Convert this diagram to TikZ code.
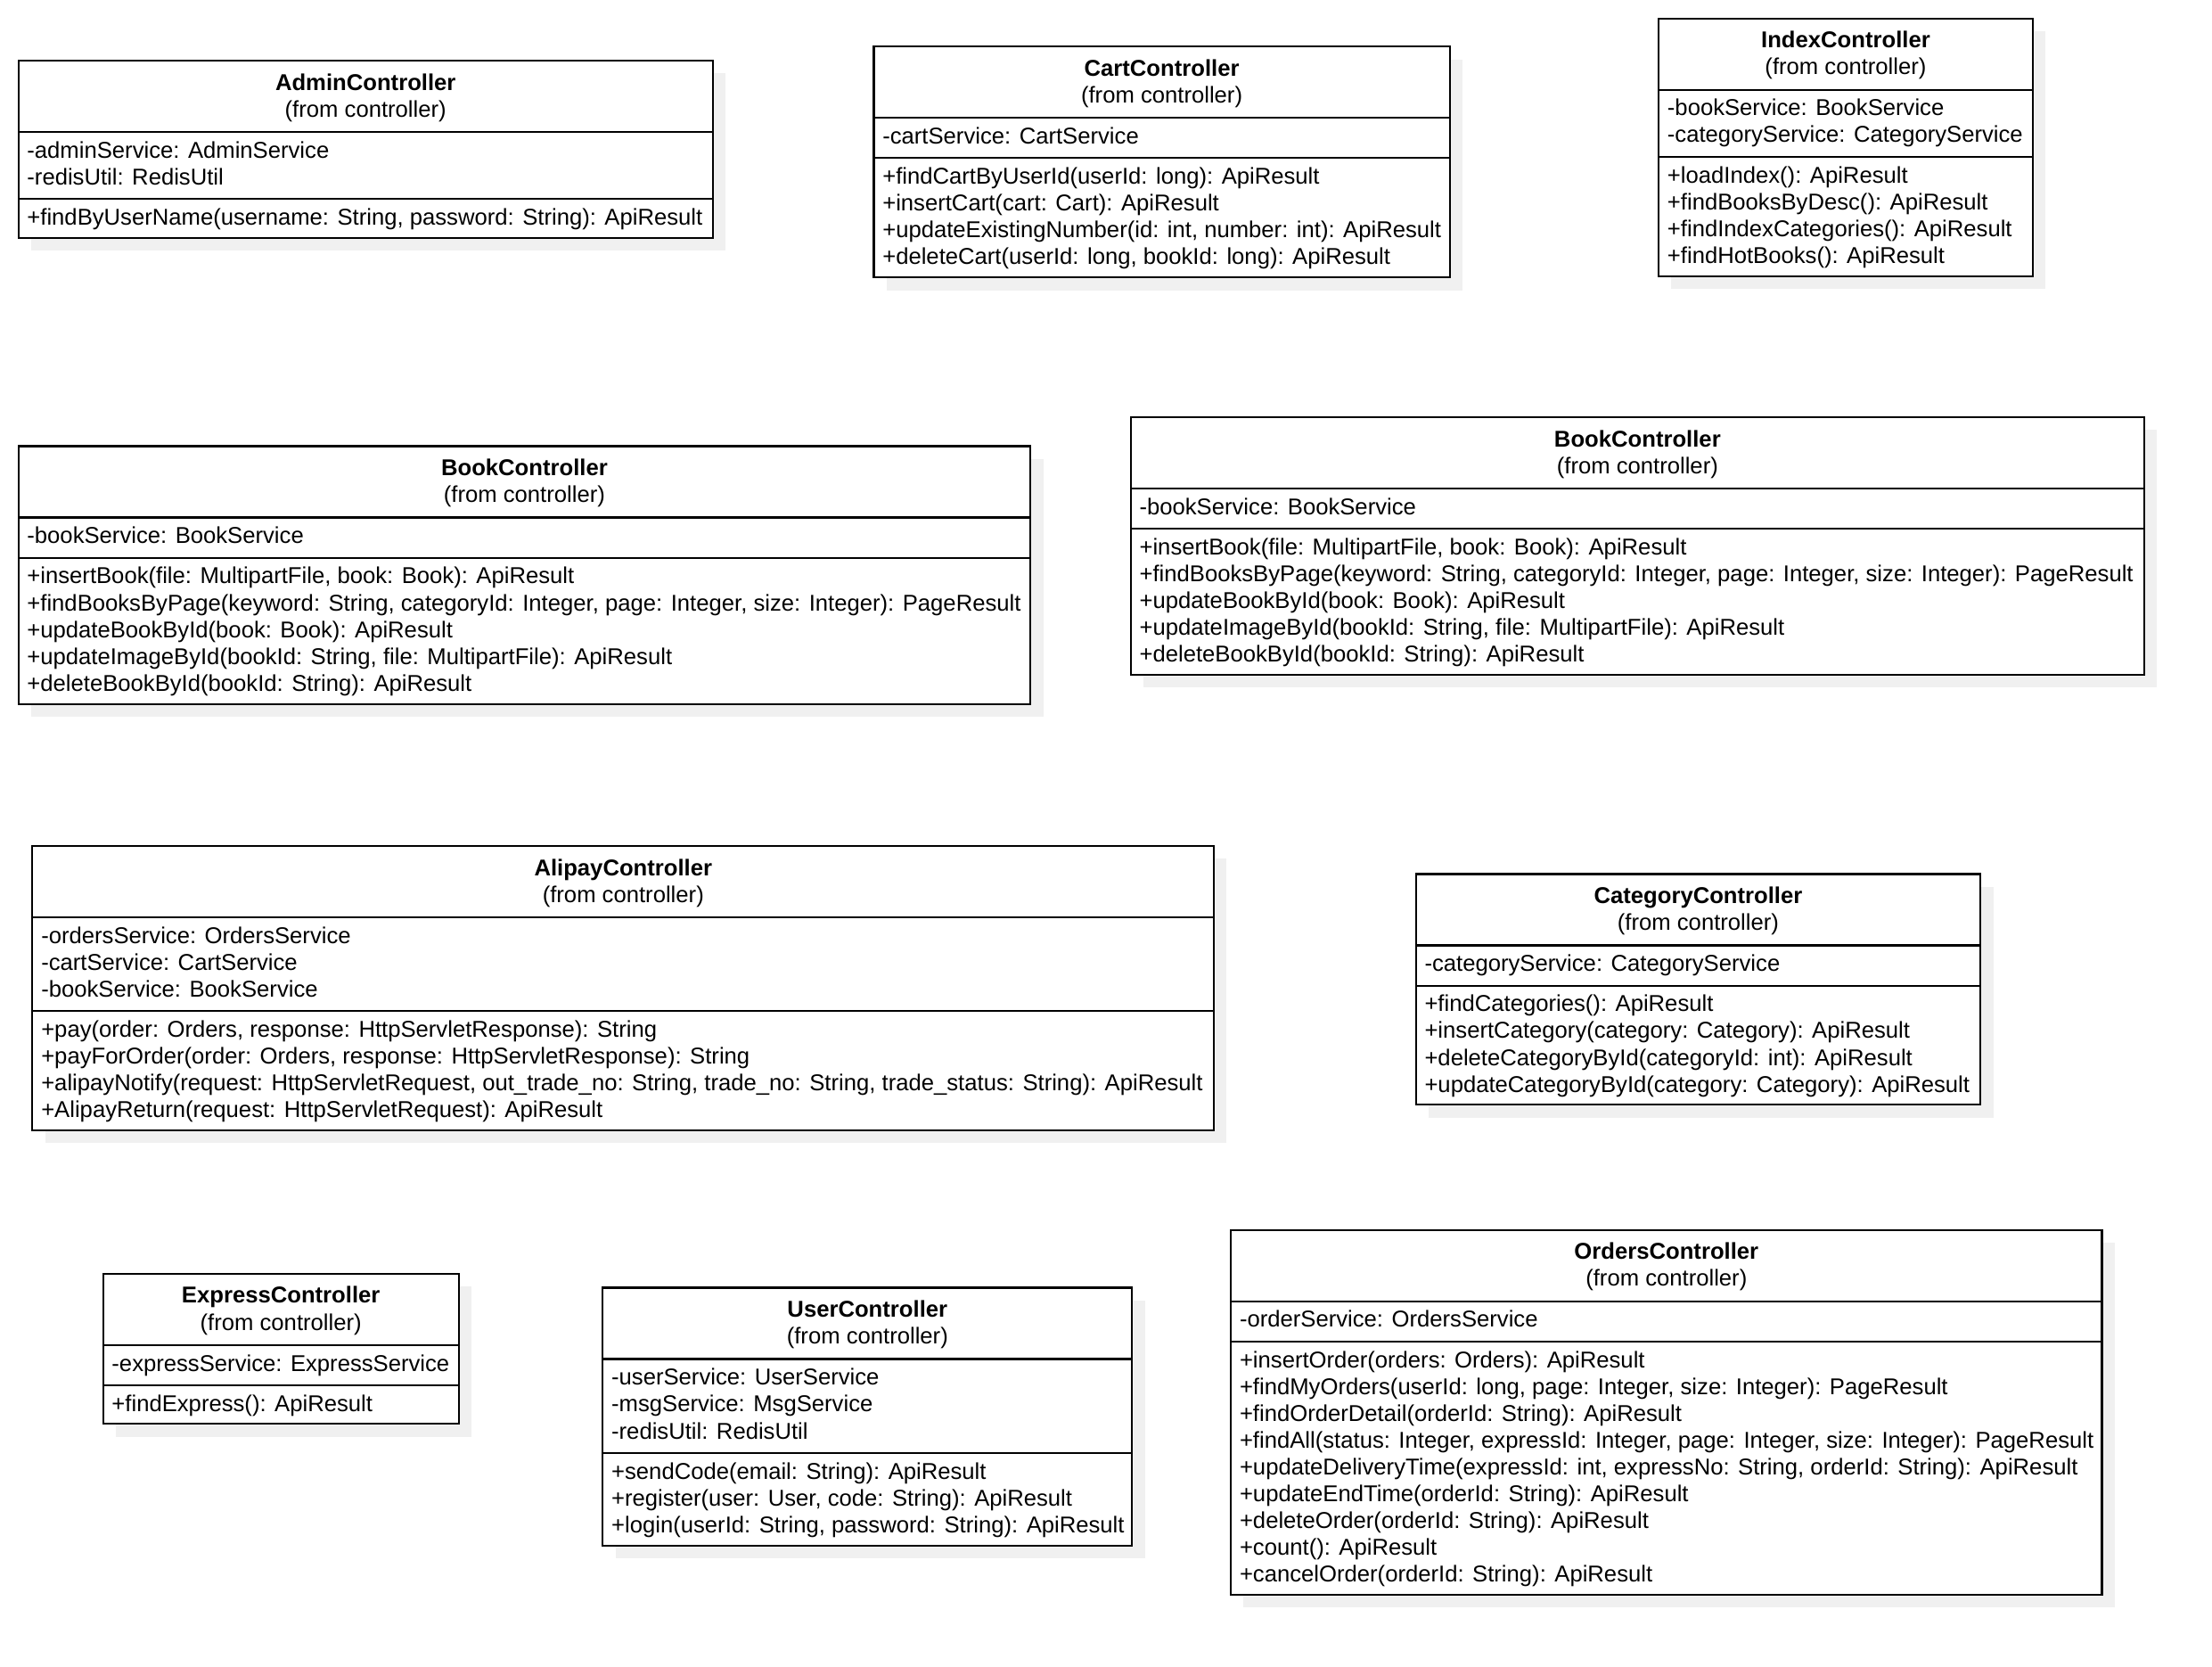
\documentclass[tikz,border=0pt]{standalone}
\usepackage{fontspec}
\setmainfont{Liberation Sans}
\definecolor{shadowc}{HTML}{F0F0F0}
\tikzset{
  member/.style={font=\fontsize{16.2}{19}\selectfont, anchor=base west, inner sep=0pt},
  titletext/.style={font=\fontsize{16.2}{19}\selectfont, anchor=base, inner sep=0pt},
  classbox/.style={draw=black, fill=white, line width=1.35pt, anchor=north west, inner sep=0pt, outer sep=0pt},
  divline/.style={draw=black, line width=1.35pt}
}
% #1 id, #2 left, #3 top, #4 right, #5 title, #6 attributes, #7 operations
\newcommand\umlbox[7]{%
  \foreach \idx [count=\cnt] in {#6} {\xdef\numattr{\cnt}}%
  \foreach \idx [count=\cnt] in {#7} {\xdef\numops{\cnt}}%
  \pgfmathsetmacro\dA{#3+50.5}%
  \pgfmathsetmacro\dB{\dA+19*\numattr+9.5}%
  \pgfmathsetmacro\bot{\dB+19*\numops+8.5}%
  \pgfmathsetmacro\bw{#4-#2}%
  \pgfmathsetmacro\bh{\bot-#3}%
  \fill[shadowc] ({#2+9},{#3+9}) rectangle ({#4+9},{\bot+9});
  \node[classbox, minimum width=\bw pt, minimum height=\bh pt] (#1) at (#2,#3) {};
  \coordinate (#1-da) at (#2,\dA);
  \coordinate (#1-db) at (#2,\dB);
  \draw[divline] (#1-da) -- (#4,\dA);
  \draw[divline] (#1-db) -- (#4,\dB);
  \node[titletext] (#1-title) at ({(#2+#4)/2},{#3+21}) {\bfseries #5};
  \node[titletext] (#1-from) at ({(#2+#4)/2},{#3+40}) {(from controller)};
  \foreach \txt [count=\cnt] in {#6} {
    \node[member] (#1-a\cnt) at ({#2+6},{\dA+18.5+19*(\cnt-1)}) {\txt};
  }
  \foreach \txt [count=\cnt] in {#7} {
    \node[member] (#1-o\cnt) at ({#2+6},{\dB+18.5+19*(\cnt-1)}) {\txt};
  }
}
\begin{document}
\begin{tikzpicture}[x=1pt,y=-1pt]
\useasboundingbox (0,0) rectangle (1567,1180.6);
\fill[white] (0,0) rectangle (1567,1180.6);

\umlbox{admin}{13}{43}{505}{AdminController}
  {{-adminService: AdminService},{-redisUtil: RedisUtil}}
  {{+findByUserName(username: String, password: String): ApiResult}}

\umlbox{cart}{619}{33}{1027}{CartController}
  {{-cartService: CartService}}
  {{+findCartByUserId(userId: long): ApiResult},{+insertCart(cart: Cart): ApiResult},{+updateExistingNumber(id: int, number: int): ApiResult},{+deleteCart(userId: long, bookId: long): ApiResult}}

\umlbox{index}{1175}{13}{1440}{IndexController}
  {{-bookService: BookService},{-categoryService: CategoryService}}
  {{+loadIndex(): ApiResult},{+findBooksByDesc(): ApiResult},{+findIndexCategories(): ApiResult},{+findHotBooks(): ApiResult}}

\umlbox{bookl}{13}{316}{730}{BookController}
  {{-bookService: BookService}}
  {{+insertBook(file: MultipartFile, book: Book): ApiResult},{+findBooksByPage(keyword: String, categoryId: Integer, page: Integer, size: Integer): PageResult},{+updateBookById(book: Book): ApiResult},{+updateImageById(bookId: String, file: MultipartFile): ApiResult},{+deleteBookById(bookId: String): ApiResult}}

\umlbox{bookr}{801}{295.5}{1519}{BookController}
  {{-bookService: BookService}}
  {{+insertBook(file: MultipartFile, book: Book): ApiResult},{+findBooksByPage(keyword: String, categoryId: Integer, page: Integer, size: Integer): PageResult},{+updateBookById(book: Book): ApiResult},{+updateImageById(bookId: String, file: MultipartFile): ApiResult},{+deleteBookById(bookId: String): ApiResult}}

\umlbox{alipay}{23}{599}{860}{AlipayController}
  {{-ordersService: OrdersService},{-cartService: CartService},{-bookService: BookService}}
  {{+pay(order: Orders, response: HttpServletResponse): String},{+payForOrder(order: Orders, response: HttpServletResponse): String},{+alipayNotify(request: HttpServletRequest, out\_trade\_no: String, trade\_no: String, trade\_status: String): ApiResult},{+AlipayReturn(request: HttpServletRequest): ApiResult}}

\umlbox{category}{1003}{619}{1403}{CategoryController}
  {{-categoryService: CategoryService}}
  {{+findCategories(): ApiResult},{+insertCategory(category: Category): ApiResult},{+deleteCategoryById(categoryId: int): ApiResult},{+updateCategoryById(category: Category): ApiResult}}

\umlbox{express}{73}{902}{325}{ExpressController}
  {{-expressService: ExpressService}}
  {{+findExpress(): ApiResult}}

\umlbox{user}{427}{912}{802}{UserController}
  {{-userService: UserService},{-msgService: MsgService},{-redisUtil: RedisUtil}}
  {{+sendCode(email: String): ApiResult},{+register(user: User, code: String): ApiResult},{+login(userId: String, password: String): ApiResult}}

\umlbox{orders}{872}{871}{1489}{OrdersController}
  {{-orderService: OrdersService}}
  {{+insertOrder(orders: Orders): ApiResult},{+findMyOrders(userId: long, page: Integer, size: Integer): PageResult},{+findOrderDetail(orderId: String): ApiResult},{+findAll(status: Integer, expressId: Integer, page: Integer, size: Integer): PageResult},{+updateDeliveryTime(expressId: int, expressNo: String, orderId: String): ApiResult},{+updateEndTime(orderId: String): ApiResult},{+deleteOrder(orderId: String): ApiResult},{+count(): ApiResult},{+cancelOrder(orderId: String): ApiResult}}

\end{tikzpicture}
\end{document}
